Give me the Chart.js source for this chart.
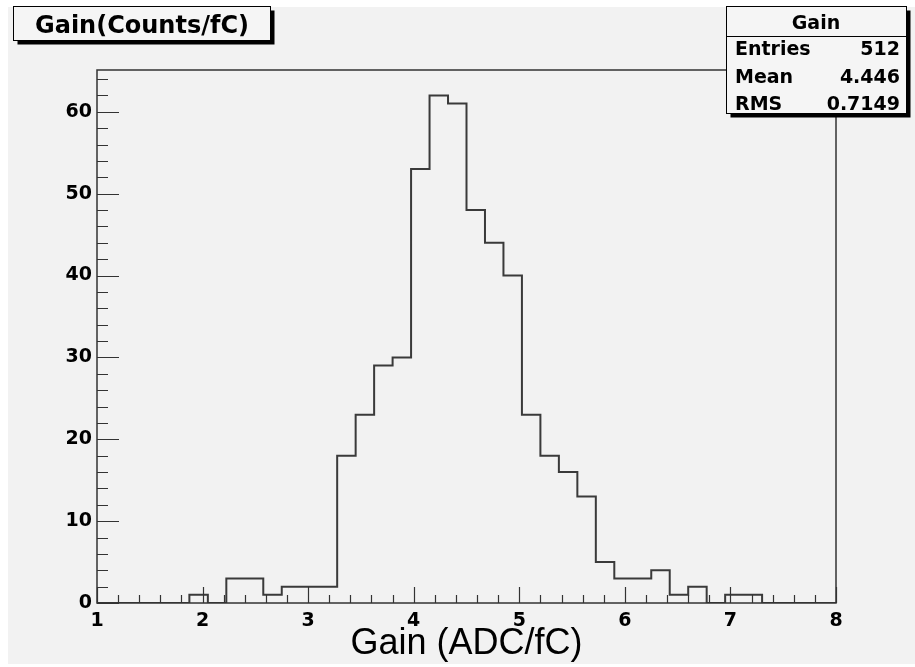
<!DOCTYPE html>
<html>
<head>
<meta charset="utf-8">
<script src="https://cdn.jsdelivr.net/npm/chart.js@4.4.0/dist/chart.umd.min.js"></script>
<style>
  html, body { margin: 0; padding: 0; background: #ffffff; }
  #wrap { width: 915px; height: 667px; }
</style>
</head>
<body>
<div id="wrap"><canvas id="gainChart" width="915" height="667"></canvas></div>
<script>
// Histograma "Gain": 40 bins de 1 a 8 (largura 0.175)
const binEdges = [1.000, 1.175, 1.350, 1.525, 1.700, 1.875, 2.050, 2.225, 2.400, 2.575,
                  2.750, 2.925, 3.100, 3.275, 3.450, 3.625, 3.800, 3.975, 4.150, 4.325,
                  4.500, 4.675, 4.850, 5.025, 5.200, 5.375, 5.550, 5.725, 5.900, 6.075,
                  6.250, 6.425, 6.600, 6.775, 6.950, 7.125, 7.300, 7.475, 7.650, 7.825, 8.000];
const counts = [0, 0, 0, 0, 0, 1, 0, 3, 3, 1,
                2, 2, 2, 18, 23, 29, 30, 53, 62, 61,
                48, 44, 40, 23, 18, 16, 13, 5, 3, 3,
                4, 1, 2, 0, 1, 1, 0, 0, 0, 0];
const xTickValues = [1, 2, 3, 4, 5, 6, 7, 8];
const yTickValues = [0, 10, 20, 30, 40, 50, 60];
const histTitle = 'Gain(Counts/fC)';
const xTitle = 'Gain (ADC/fC)';
const statsName = 'Gain';
const statsLabels = ['Entries', 'Mean', 'RMS'];
const statsValues = ['512', '4.446', '0.7149'];

const X_MIN = 1, X_MAX = 8, Y_MAX = 65.1;
const BOLD = 'DejaVu Sans';

// Pontos do contorno (degraus) a partir das bordas dos bins
const outline = binEdges.map((e, i) => ({ x: e, y: i < counts.length ? counts[i] : counts[counts.length - 1] }));

// Fundo cinza do canvas (estilo ROOT)
const backgroundPlugin = {
    id: 'rootBackground',
    beforeDraw(chart) {
        const ctx = chart.ctx;
        ctx.save();
        ctx.fillStyle = '#ffffff';
        ctx.fillRect(0, 0, chart.width, chart.height);
        ctx.fillStyle = '#f2f2f2';
        ctx.fillRect(8, 7, chart.width - 8, chart.height - 10);
        ctx.restore();
    }
};

// Moldura, ticks internos, caixa de título e caixa de estatísticas
const framePlugin = {
    id: 'rootFrame',
    afterDraw(chart) {
        const ctx = chart.ctx;
        const { left, right, top, bottom } = chart.chartArea;
        const xs = chart.scales.x, ys = chart.scales.y;
        ctx.save();
        ctx.strokeStyle = '#333333';
        ctx.lineWidth = 1.5;
        ctx.strokeRect(left, top, right - left, bottom - top);

        ctx.lineWidth = 1.2;
        ctx.beginPath();
        // ticks do eixo y (dentro da moldura)
        for (let v = 0; v <= Y_MAX; v += 2) {
            const py = Math.round(ys.getPixelForValue(v)) + 0.5;
            const len = (v % 10 === 0) ? 22 : 11;
            ctx.moveTo(left, py);
            ctx.lineTo(left + len, py);
        }
        // ticks do eixo x
        for (let k = 0; k <= (X_MAX - X_MIN) * 5; k++) {
            const v = X_MIN + k * 0.2;
            const px = Math.round(xs.getPixelForValue(v)) + 0.5;
            const len = (k % 5 === 0) ? 16 : 8;
            ctx.moveTo(px, bottom);
            ctx.lineTo(px, bottom - len);
        }
        ctx.stroke();

        // caixa de título
        drawBox(ctx, 13.5, 6.5, 257, 34);
        ctx.fillStyle = '#000000';
        ctx.font = 'bold 24px "' + BOLD + '"';
        ctx.textAlign = 'center';
        ctx.textBaseline = 'alphabetic';
        ctx.fillText(histTitle, 142, 33);

        // caixa de estatísticas
        drawBox(ctx, 726.5, 6.5, 180, 107);
        ctx.strokeStyle = '#000000';
        ctx.lineWidth = 1;
        ctx.beginPath();
        ctx.moveTo(726.5, 36.5);
        ctx.lineTo(906.5, 36.5);
        ctx.stroke();
        ctx.fillStyle = '#000000';
        ctx.font = 'bold 19px "' + BOLD + '"';
        ctx.textAlign = 'center';
        ctx.fillText(statsName, 816, 29);
        statsLabels.forEach((lab, i) => {
            const by = 55 + i * 27.5;
            ctx.textAlign = 'left';
            ctx.fillText(lab, 735, by);
            ctx.textAlign = 'right';
            ctx.fillText(statsValues[i], 900, by);
        });
        ctx.restore();
    }
};

function drawBox(ctx, x, y, w, h) {
    ctx.fillStyle = '#000000';
    ctx.fillRect(x + 4, y + 4, w, h);
    ctx.fillStyle = '#f5f5f5';
    ctx.fillRect(x, y, w, h);
    ctx.strokeStyle = '#000000';
    ctx.lineWidth = 1;
    ctx.strokeRect(x, y, w, h);
}

const ctx = document.getElementById('gainChart').getContext('2d');
window.gainChart = new Chart(ctx, {
    type: 'line',
    data: {
        datasets: [{
            label: statsName,
            data: outline,
            stepped: 'before',
            borderColor: '#3a3a3a',
            borderWidth: 2,
            pointRadius: 0,
            fill: false,
            tension: 0
        }]
    },
    options: {
        responsive: false,
        animation: false,
        layout: { padding: { left: 0, top: 70, right: 79, bottom: 0 } },
        plugins: {
            legend: { display: false },
            tooltip: { enabled: false },
            title: { display: false }
        },
        scales: {
            x: {
                type: 'linear',
                min: X_MIN,
                max: X_MAX,
                afterFit: (s) => { s.height = 64; },
                afterBuildTicks: (s) => { s.ticks = xTickValues.map(v => ({ value: v })); },
                grid: { display: false, drawTicks: false },
                border: { display: false },
                ticks: {
                    autoSkip: false,
                    maxRotation: 0,
                    padding: 7,
                    color: '#000000',
                    font: { family: BOLD, weight: 'bold', size: 19 },
                    callback: (v) => String(v)
                },
                title: {
                    display: true,
                    text: xTitle,
                    color: '#000000',
                    font: { family: 'Liberation Sans', size: 36 },
                    padding: { top: 0, bottom: 1 }
                }
            },
            y: {
                type: 'linear',
                min: 0,
                max: Y_MAX,
                afterFit: (s) => { s.width = 97; },
                afterBuildTicks: (s) => { s.ticks = yTickValues.map(v => ({ value: v })); },
                grid: { display: false, drawTicks: false },
                border: { display: false },
                ticks: {
                    padding: 5,
                    color: '#000000',
                    font: { family: BOLD, weight: 'bold', size: 19 },
                    callback: (v) => String(v)
                }
            }
        }
    },
    plugins: [backgroundPlugin, framePlugin]
});
</script>
</body>
</html>
